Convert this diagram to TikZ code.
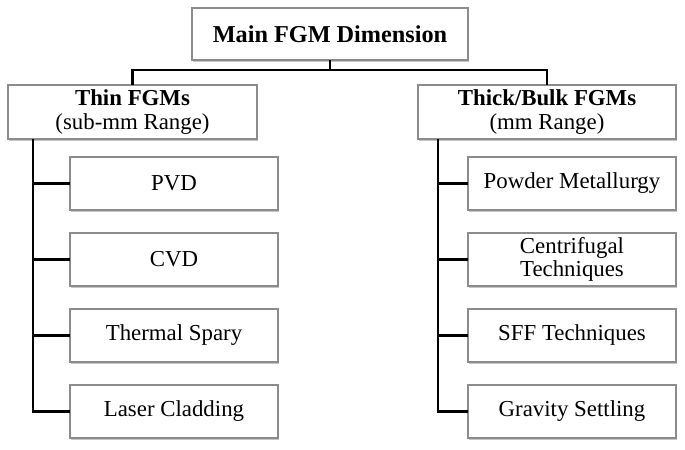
\documentclass[tikz,border=0pt]{standalone}
\usepackage{fontspec}
\setmainfont{Liberation Serif}
\definecolor{fgmEdge}{HTML}{8C8C8C}
\usetikzlibrary{calc,positioning,shadows}

\tikzset{
  fgmbox/.style={draw=fgmEdge, line width=0.6pt, fill=white, align=center,
    inner sep=2pt, outer sep=0pt, font=\fontsize{13}{15}\selectfont,
    drop shadow={shadow xshift=0.8pt, shadow yshift=-0.9pt, fill=black!45, opacity=0.5}},
  leafbox/.style={fgmbox, minimum width=4.16cm, minimum height=1.06cm},
  link/.style={draw=black, line width=1.3pt}
}

\begin{document}
\begin{tikzpicture}
  \useasboundingbox (0,0) rectangle (13.7,9);

  % top and the two ranges
  \node[fgmbox, minimum width=5.52cm, minimum height=1.04cm, font=\fontsize{13.8}{15}\selectfont\bfseries] (main) at (6.6,8.32) {Main FGM Dimension};
  \node[fgmbox, minimum width=4.98cm, minimum height=1.08cm] (thin) at (2.65,6.76) {\textbf{Thin FGMs}\\[-1pt](sub-mm Range)};
  \node[fgmbox, minimum width=5.16cm, minimum height=1.08cm] (thick) at (10.94,6.76) {\textbf{Thick/Bulk FGMs}\\[-1pt](mm Range)};

  % thin routes
  \node[leafbox] (pvd) at (3.48,5.33) {PVD};
  \node[leafbox, below=0.46cm of pvd] (cvd) {CVD};
  \node[leafbox, below=0.46cm of cvd] (spray) {Thermal Spary};
  \node[leafbox, below=0.46cm of spray] (laser) {Laser Cladding};

  % bulk routes
  \node[leafbox] (powder) at (11.44,5.33) {Powder Metallurgy};
  \node[leafbox, below=0.46cm of powder] (centri) {Centrifugal\\[-2pt]Techniques};
  \node[leafbox, below=0.46cm of centri] (sff) {SFF Techniques};
  \node[leafbox, below=0.46cm of sff] (gravity) {Gravity Settling};

  % connectors
  \coordinate (bar) at ($(main.south)+(0,-0.2)$);
  \draw[link] (main.south) -- (bar);
  \draw[link] (thin.north) |- (bar) -| (thick.north);

  \coordinate (ltrunk) at ($(thin.south west)+(0.5,0)$);
  \draw[link] (ltrunk) |- (laser.west);
  \draw[link] (ltrunk |- pvd) -- (pvd.west);
  \draw[link] (ltrunk |- cvd) -- (cvd.west);
  \draw[link] (ltrunk |- spray) -- (spray.west);

  \coordinate (rtrunk) at ($(thick.south west)+(0.4,0)$);
  \draw[link] (rtrunk) |- (gravity.west);
  \draw[link] (rtrunk |- powder) -- (powder.west);
  \draw[link] (rtrunk |- centri) -- (centri.west);
  \draw[link] (rtrunk |- sff) -- (sff.west);
\end{tikzpicture}
\end{document}
